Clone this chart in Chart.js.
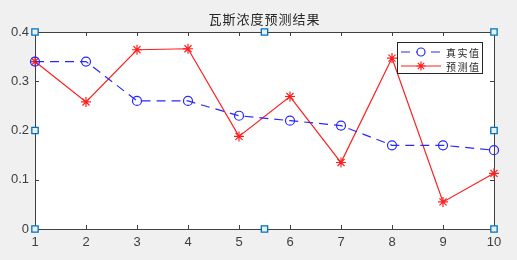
<!DOCTYPE html>
<html>
<head>
<meta charset="utf-8">
<script src="https://cdn.jsdelivr.net/npm/chart.js@4.4.1/dist/chart.umd.min.js"></script>
<style>
  html, body { margin: 0; padding: 0; background: #f0f0f0; }
  #wrap { width: 517px; height: 260px; }
</style>
</head>
<body>
<div id="wrap"><canvas id="gas"></canvas></div>
<script>
var xs = [1, 2, 3, 4, 5, 6, 7, 8, 9, 10];
var realVals = [0.34, 0.34, 0.26, 0.26, 0.23, 0.22, 0.21, 0.17, 0.17, 0.16];
var predVals = [0.34, 0.258, 0.364, 0.366, 0.188, 0.269, 0.135, 0.347, 0.055, 0.113];
var yTicks = [0, 0.1, 0.2, 0.3, 0.4];
// selection handles on the axes box
var handleX = [1, 1, 1, 5.5, 5.5, 10, 10, 10];
var handleY = [0, 0.2, 0.4, 0.4, 0, 0, 0.2, 0.4];

function pts(xv, yv) {
    return xv.map(function (x, i) { return { x: x, y: yv[i] }; });
}

var axisColor = '#404040';
var blue = 'rgb(40,40,255)';
var red = 'rgb(255,30,30)';

var boxPlugin = {
    id: 'box',
    beforeDraw: function (chart) {
        var c = chart.ctx, a = chart.chartArea;
        c.save();
        c.fillStyle = '#f0f0f0';
        c.fillRect(0, 0, chart.width, chart.height);
        c.fillStyle = '#ffffff';
        c.fillRect(a.left, a.top, a.right - a.left, a.bottom - a.top);
        c.restore();
    },
    beforeDatasetsDraw: function (chart) {
        var c = chart.ctx, a = chart.chartArea;
        var sx = chart.scales.x, sy = chart.scales.y;
        c.save();
        c.strokeStyle = axisColor;
        c.lineWidth = 1;
        c.strokeRect(Math.round(a.left) + 0.5, Math.round(a.top) + 0.5,
            Math.round(a.right - a.left), Math.round(a.bottom - a.top));
        c.beginPath();
        var tl = 4;
        xs.forEach(function (v) {
            var px = Math.round(sx.getPixelForValue(v)) + 0.5;
            c.moveTo(px, a.bottom); c.lineTo(px, a.bottom - tl);
            c.moveTo(px, a.top); c.lineTo(px, a.top + tl);
        });
        yTicks.forEach(function (v) {
            var py = Math.round(sy.getPixelForValue(v)) + 0.5;
            c.moveTo(a.left, py); c.lineTo(a.left + tl, py);
            c.moveTo(a.right, py); c.lineTo(a.right - tl, py);
        });
        c.stroke();
        c.restore();
    },
    afterDraw: function (chart) {
        var c = chart.ctx, a = chart.chartArea;
        c.save();
        // title
        c.fillStyle = '#262626';
        c.font = '13px "Noto Sans CJK SC"';
        c.textAlign = 'center';
        c.textBaseline = 'middle';
        c.letterSpacing = '1px';
        c.fillText('瓦斯浓度预测结果', (a.left + a.right) / 2, 19);
        // legend
        var lx = 397, ly = 42, lw = 85, lh = 31;
        c.fillStyle = '#ffffff';
        c.fillRect(lx, ly, lw, lh);
        c.strokeStyle = '#262626';
        c.lineWidth = 1;
        c.strokeRect(lx + 0.5, ly + 0.5, lw, lh);
        var rows = [
            { ds: chart.data.datasets[0], y: ly + 10 },
            { ds: chart.data.datasets[1], y: ly + 24 }
        ];
        rows.forEach(function (r) {
            c.strokeStyle = r.ds.borderColor;
            c.lineWidth = 1.2;
            c.setLineDash(r.ds.borderDash || []);
            c.beginPath();
            c.moveTo(lx + 4, r.y); c.lineTo(lx + 44, r.y);
            c.stroke();
            c.setLineDash([]);
            Chart.helpers.drawPoint(c, {
                pointStyle: r.ds.pointStyle, radius: r.ds.pointRadius - 0.5,
                borderWidth: r.ds.pointBorderWidth, rotation: 0
            }, lx + 24, r.y);
            c.fillStyle = '#262626';
            c.font = '10px "Noto Sans CJK SC"';
            c.textAlign = 'left';
            c.textBaseline = 'middle';
            c.letterSpacing = '1.5px';
            c.fillText(r.ds.label, lx + 49, r.y + 1);
        });
        c.restore();
    }
};

new Chart(document.getElementById('gas'), {
    type: 'line',
    data: {
        datasets: [{
            label: '真实值',
            data: pts(xs, realVals),
            borderColor: blue,
            borderWidth: 1.2,
            borderDash: [9, 6],
            pointStyle: 'circle',
            pointRadius: 4.5,
            pointBorderWidth: 1.2,
            pointBorderColor: blue,
            pointBackgroundColor: 'rgba(0,0,0,0)',
            clip: false
        }, {
            label: '预测值',
            data: pts(xs, predVals),
            borderColor: red,
            borderWidth: 1.2,
            pointStyle: 'star',
            pointRadius: 5,
            pointBorderWidth: 1.2,
            pointBorderColor: red,
            pointBackgroundColor: red,
            clip: false
        }, {
            label: 'handles',
            data: pts(handleX, handleY),
            showLine: false,
            pointStyle: 'rect',
            pointRadius: 4.5,
            pointBorderWidth: 1.3,
            pointBorderColor: 'rgb(0,114,189)',
            pointBackgroundColor: 'rgba(230,240,250,1)',
            clip: false
        }]
    },
    options: {
        responsive: true,
        maintainAspectRatio: false,
        animation: false,
        events: [],
        layout: { padding: { left: 0, right: 23, top: 32, bottom: 0 } },
        plugins: {
            legend: { display: false },
            title: { display: false },
            tooltip: { enabled: false }
        },
        scales: {
            x: {
                type: 'linear',
                min: 1, max: 10,
                grid: { display: false, drawTicks: false, tickLength: 0 },
                border: { display: false },
                ticks: {
                    stepSize: 1, padding: 6, color: axisColor,
                    font: { family: '"Liberation Sans", Arial', size: 13 }
                },
                afterFit: function (s) { s.height = 31; }
            },
            y: {
                min: 0, max: 0.4,
                grid: { display: false, drawTicks: false, tickLength: 0 },
                border: { display: false },
                ticks: {
                    stepSize: 0.1, padding: 6, color: axisColor,
                    font: { family: '"Liberation Sans", Arial', size: 13 }
                },
                afterFit: function (s) { s.width = 35; }
            }
        }
    },
    plugins: [boxPlugin]
});
</script>
</body>
</html>
